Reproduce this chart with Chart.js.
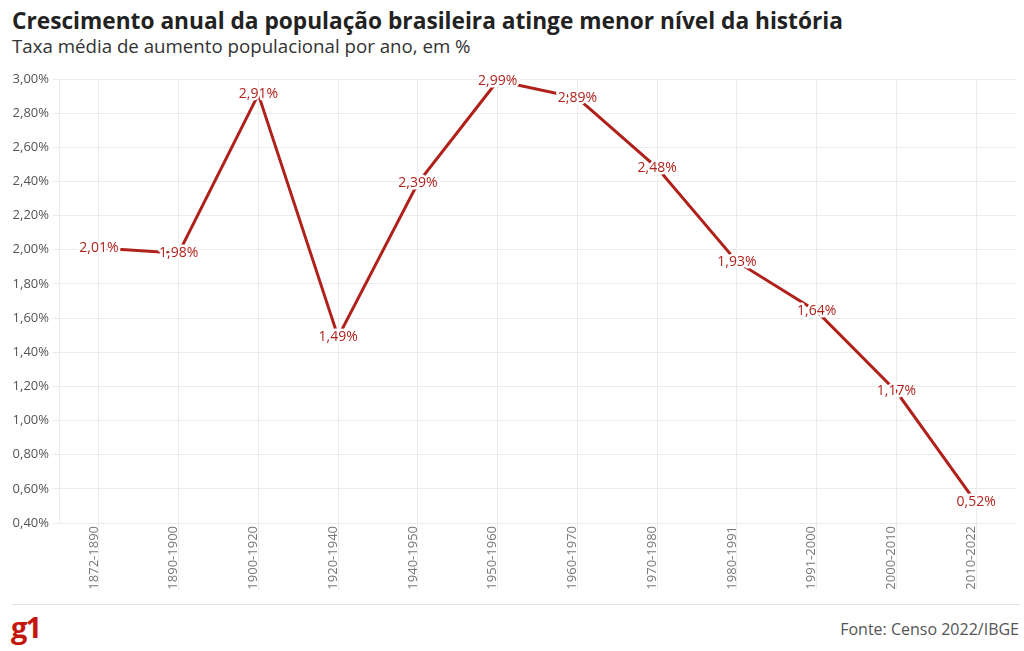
<!DOCTYPE html>
<html lang="pt-BR">
<head>
<meta charset="UTF-8" />
<script src="https://cdn.jsdelivr.net/npm/chart.js@4/dist/chart.umd.min.js"></script>
<title>Crescimento anual da população brasileira</title>
<style>
  body { margin: 0; width: 1024px; height: 651px; background: #fff; font-family: "Open Sans", sans-serif; position: relative; overflow: hidden; }
  h1 { position: absolute; left: 12px; top: 5px; margin: 0; font-size: 22.7px; font-weight: 700; color: #222; white-space: nowrap; }
  h2 { position: absolute; left: 12px; top: 33px; margin: 0; font-size: 18.7px; font-weight: 400; color: #333; white-space: nowrap; }
  #wrap { position: absolute; left: 0; top: 62px; width: 1024px; height: 540px; }
  #rule { position: absolute; left: 12px; top: 604px; width: 1008px; height: 1px; background: #e3e3e3; }
  #logo { position: absolute; left: 11px; top: 607px; font-size: 29px; font-weight: 700; color: #c4170c; letter-spacing: -2px; }
  #src { position: absolute; right: 5px; top: 618px; font-size: 16px; color: #555; }
</style>
</head>
<body>
<h1>Crescimento anual da população brasileira atinge menor nível da história</h1>
<h2>Taxa média de aumento populacional por ano, em %</h2>
<div id="wrap"><canvas id="chart"></canvas></div>
<div id="rule"></div>
<div id="logo">g1</div>
<div id="src">Fonte: Censo 2022/IBGE</div>
<script>
const periods = ['1872-1890', '1890-1900', '1900-1920', '1920-1940', '1940-1950', '1950-1960',
                 '1960-1970', '1970-1980', '1980-1991', '1991-2000', '2000-2010', '2010-2022'];
const growth = [2.01, 1.98, 2.91, 1.49, 2.39, 2.99, 2.89, 2.48, 1.93, 1.64, 1.17, 0.52];

const fmt = v => v.toFixed(2).replace('.', ',') + '%';

// point labels with a white halo, centred on each point
const pointLabels = {
  id: 'pointLabels',
  afterDatasetsDraw(chart) {
    const ctx = chart.ctx;
    const meta = chart.getDatasetMeta(0);
    ctx.save();
    ctx.font = '14px "Open Sans"';
    ctx.textAlign = 'center';
    ctx.textBaseline = 'middle';
    ctx.lineJoin = 'round';
    meta.data.forEach((pt, i) => {
      const txt = fmt(growth[i]);
      ctx.strokeStyle = '#fff';
      ctx.lineWidth = 5;
      ctx.strokeText(txt, pt.x, pt.y);
      ctx.fillStyle = '#b0231c';
      ctx.fillText(txt, pt.x, pt.y);
    });
    ctx.restore();
  }
};

new Chart(document.getElementById('chart'), {
  type: 'line',
  data: {
    labels: periods,
    datasets: [{
      data: growth,
      borderColor: '#b0211b',
      borderWidth: 3,
      pointRadius: 0,
      tension: 0
    }]
  },
  options: {
    responsive: true,
    maintainAspectRatio: false,
    animation: false,
    layout: { padding: { top: 17, right: 8, left: 0, bottom: 0 } },
    plugins: { legend: { display: false }, tooltip: { enabled: false } },
    scales: {
      x: {
        offset: true,
        grid: { offset: false, color: '#ebebeb', tickLength: 67, drawTicks: true },
        border: { color: '#ebebeb' },
        ticks: {
          minRotation: 90, maxRotation: 90, padding: -64, labelOffset: -5,
          color: '#777', font: { family: 'Open Sans', size: 13 }
        },
        afterFit(s) { s.height = 79; }
      },
      y: {
        min: 0.4, max: 3.0,
        grid: { color: '#ebebeb', tickLength: 6 },
        border: { color: '#ebebeb' },
        ticks: {
          stepSize: 0.2, padding: 4, color: '#555',
          font: { family: 'Open Sans', size: 13 },
          callback: v => fmt(v)
        },
        afterFit(s) { s.width = 59; }
      }
    }
  },
  plugins: [pointLabels]
});
</script>
</body>
</html>
